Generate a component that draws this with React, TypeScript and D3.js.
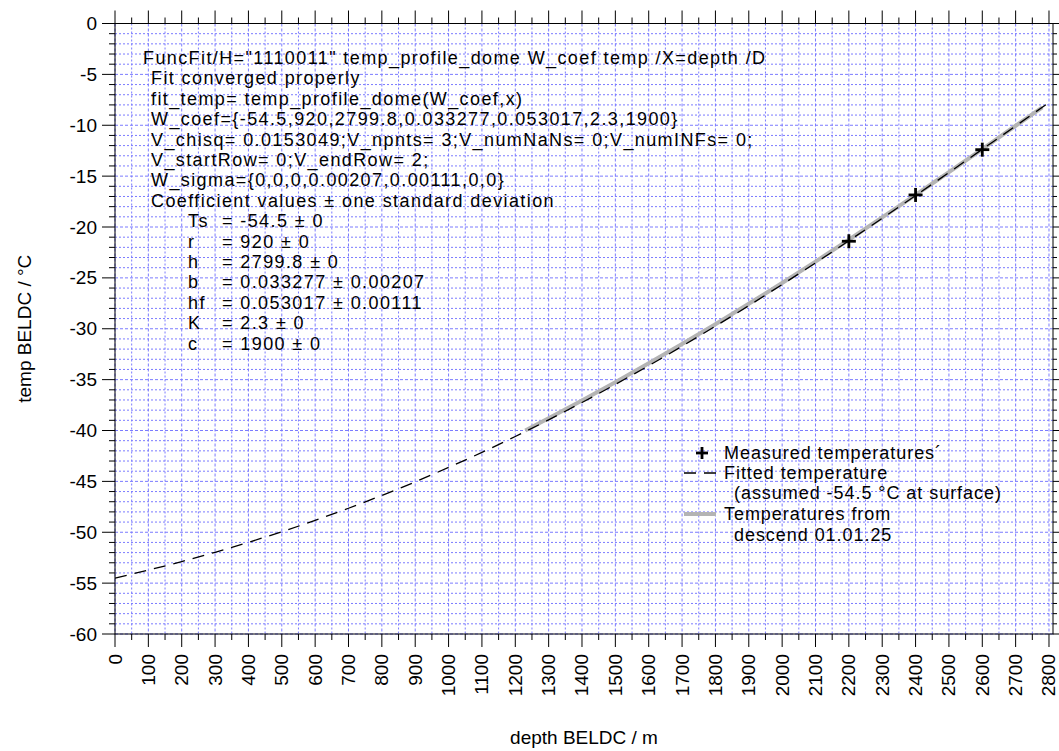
import * as d3 from "d3";

// fitted profile, every 100 m
const depthFit = [
  0, 100, 200, 300, 400, 500, 600, 700, 800, 900, 1000, 1100, 1200, 1300,
  1400, 1500, 1600, 1700, 1800, 1900, 2000, 2100, 2200, 2300, 2400, 2500,
  2600, 2700, 2800,
];
const tempFit = [
  -54.5, -53.72, -52.88, -51.97, -50.99, -49.95, -48.83, -47.64, -46.38,
  -45.05, -43.63, -42.15, -40.59, -38.95, -37.25, -35.47, -33.63, -31.72,
  -29.75, -27.73, -25.65, -23.53, -21.35, -19.15, -16.91, -14.65, -12.36,
  -10.07, -7.76,
];

const depthMeasured = [2200, 2400, 2600];
const tempMeasured = [-21.4, -16.85, -12.4];

const depthDescend = [
  1230, 1300, 1400, 1500, 1600, 1700, 1800, 1900, 2000, 2100, 2200, 2300,
  2400, 2500, 2600, 2700, 2780,
];
const tempDescend = [
  -40.0, -38.8, -37.05, -35.25, -33.4, -31.5, -29.55, -27.55, -25.5, -23.4,
  -21.25, -19.05, -16.85, -14.6, -12.35, -10.05, -8.25,
];

const fitLines = [
  'FuncFit/H="1110011" temp_profile_dome W_coef temp /X=depth /D',
  "Fit converged properly",
  "fit_temp= temp_profile_dome(W_coef,x)",
  "W_coef={-54.5,920,2799.8,0.033277,0.053017,2.3,1900}",
  "V_chisq= 0.0153049;V_npnts= 3;V_numNaNs= 0;V_numINFs= 0;",
  "V_startRow= 0;V_endRow= 2;",
  "W_sigma={0,0,0,0.00207,0.00111,0,0}",
  "Coefficient values ± one standard deviation",
];
const coefNames = ["Ts", "r", "h", "b", "hf", "K", "c"];
const coefValues = [
  "= -54.5 ± 0",
  "= 920 ± 0",
  "= 2799.8 ± 0",
  "= 0.033277 ± 0.00207",
  "= 0.053017 ± 0.00111",
  "= 2.3 ± 0",
  "= 1900 ± 0",
];

const W = 1059;
const H = 751;
const left = 115;
const right = 1053;
const top = 23.5;
const bottom = 634;
const font = "'Liberation Sans', Arial, Helvetica, sans-serif";

export default function App() {
  const x = d3.scaleLinear().domain([0, 2812]).range([left, right]);
  const y = d3.scaleLinear().domain([-60, 0]).range([bottom, top]);

  const xMajor = d3.range(0, 2801, 100);
  const xMinor = d3.range(50, 2812, 100);
  const yMajor = d3.range(-60, 1, 5);
  const yMinor = d3.range(-60, 1, 1).filter((v) => v % 5 !== 0);

  const line = d3
    .line<[number, number]>()
    .x((d) => x(d[0]))
    .y((d) => y(d[1]))
    .curve(d3.curveMonotoneX);

  const fitPts = depthFit.map((d, i) => [d, tempFit[i]] as [number, number]);
  const descPts = depthDescend.map(
    (d, i) => [d, tempDescend[i]] as [number, number]
  );

  const grid = "#7b7bff";
  const lh = 20.4;

  return (
    <svg
      width={W}
      height={H}
      style={{ position: "absolute", left: 0, top: 0, background: "#fff" }}
      fontFamily={font}
    >
      {/* grid */}
      <g>
        {[...xMinor, ...xMajor].map((v) => (
          <line
            key={"gx" + v}
            x1={x(v)}
            x2={x(v)}
            y1={top}
            y2={bottom}
            stroke={grid}
            strokeWidth={1}
            strokeDasharray={v % 100 === 0 ? "3,2" : "2,2"}
          />
        ))}
        {[...yMinor, ...yMajor].map((v) => (
          <line
            key={"gy" + v}
            x1={left}
            x2={right}
            y1={y(v)}
            y2={y(v)}
            stroke={grid}
            strokeWidth={1}
            strokeDasharray={v % 5 === 0 ? "3,2" : "2,2"}
          />
        ))}
      </g>

      {/* frame and ticks */}
      <rect
        x={left}
        y={top}
        width={right - left}
        height={bottom - top}
        fill="none"
        stroke="#000"
        strokeWidth={1}
      />
      <g stroke="#000" strokeWidth={1}>
        {xMajor.map((v) => (
          <g key={"tx" + v}>
            <line x1={x(v)} x2={x(v)} y1={bottom} y2={bottom + 13} />
            <line x1={x(v)} x2={x(v)} y1={top} y2={top - 13} />
          </g>
        ))}
        {xMinor.map((v) => (
          <g key={"tmx" + v}>
            <line x1={x(v)} x2={x(v)} y1={bottom} y2={bottom + 6} />
            <line x1={x(v)} x2={x(v)} y1={top} y2={top - 6} />
          </g>
        ))}
        {yMajor.map((v) => (
          <g key={"ty" + v}>
            <line x1={left} x2={left - 13} y1={y(v)} y2={y(v)} />
            <line x1={right} x2={right + 6} y1={y(v)} y2={y(v)} />
          </g>
        ))}
        {yMinor.map((v) => (
          <g key={"tmy" + v}>
            <line x1={left} x2={left - 6} y1={y(v)} y2={y(v)} />
            <line x1={right} x2={right + 4} y1={y(v)} y2={y(v)} />
          </g>
        ))}
      </g>

      {/* tick labels */}
      <g fontSize={19} fill="#000">
        {yMajor.map((v) => (
          <text
            key={"ly" + v}
            x={left - 18}
            y={y(v)}
            textAnchor="end"
            dominantBaseline="central"
          >
            {v}
          </text>
        ))}
        {xMajor.map((v) => (
          <text
            key={"lx" + v}
            transform={`translate(${x(v)},${bottom + 20}) rotate(-90)`}
            textAnchor="end"
            dominantBaseline="central"
          >
            {v}
          </text>
        ))}
      </g>

      {/* axis titles */}
      <text
        transform={`translate(24,${(top + bottom) / 2}) rotate(-90)`}
        textAnchor="middle"
        dominantBaseline="central"
        fontSize={19}
      >
        temp BELDC / °C
      </text>
      <text
        x={(left + right) / 2}
        y={737}
        textAnchor="middle"
        dominantBaseline="central"
        fontSize={19}
      >
        depth BELDC / m
      </text>

      {/* data */}
      <path
        d={line(descPts) || ""}
        fill="none"
        stroke="#b4b4b4"
        strokeWidth={4}
      />
      <path
        d={line(fitPts) || ""}
        fill="none"
        stroke="#000"
        strokeWidth={1.3}
        strokeDasharray="12,8"
      />
      <g stroke="#000" strokeWidth={2.8}>
        {depthMeasured.map((d, i) => (
          <g key={"m" + d}>
            <line
              x1={x(d) - 7}
              x2={x(d) + 7}
              y1={y(tempMeasured[i])}
              y2={y(tempMeasured[i])}
            />
            <line
              x1={x(d)}
              x2={x(d)}
              y1={y(tempMeasured[i]) - 7}
              y2={y(tempMeasured[i]) + 7}
            />
          </g>
        ))}
      </g>

      {/* fit report */}
      <g fontSize={18} letterSpacing={1.4} fill="#000">
        {fitLines.map((t, i) => (
          <text
            key={"f" + i}
            x={i === 0 ? 143 : 151}
            y={58 + i * lh}
            dominantBaseline="central"
          >
            {t}
          </text>
        ))}
        {coefNames.map((t, i) => (
          <g key={"c" + i}>
            <text
              x={188}
              y={58 + (fitLines.length + i) * lh}
              dominantBaseline="central"
            >
              {t}
            </text>
            <text
              x={222}
              y={58 + (fitLines.length + i) * lh}
              dominantBaseline="central"
            >
              {coefValues[i]}
            </text>
          </g>
        ))}
      </g>

      {/* legend */}
      <g fontSize={18} letterSpacing={0.95} fill="#000">
        <g stroke="#000" strokeWidth={2.8}>
          <line x1={696} x2={708} y1={453} y2={453} />
          <line x1={702} x2={702} y1={447} y2={459} />
        </g>
        <text x={724} y={453} dominantBaseline="central">
          Measured temperatures´
        </text>
        <line
          x1={684}
          x2={716}
          y1={473}
          y2={473}
          stroke="#000"
          strokeWidth={1.3}
          strokeDasharray="12,8"
        />
        <text x={724} y={473} dominantBaseline="central">
          Fitted temperature
        </text>
        <text x={734} y={493} dominantBaseline="central">
          (assumed -54.5 °C at surface)
        </text>
        <line
          x1={684}
          x2={716}
          y1={514}
          y2={514}
          stroke="#b4b4b4"
          strokeWidth={4}
        />
        <text x={724} y={514} dominantBaseline="central">
          Temperatures from
        </text>
        <text x={734} y={535} dominantBaseline="central">
          descend 01.01.25
        </text>
      </g>
    </svg>
  );
}
